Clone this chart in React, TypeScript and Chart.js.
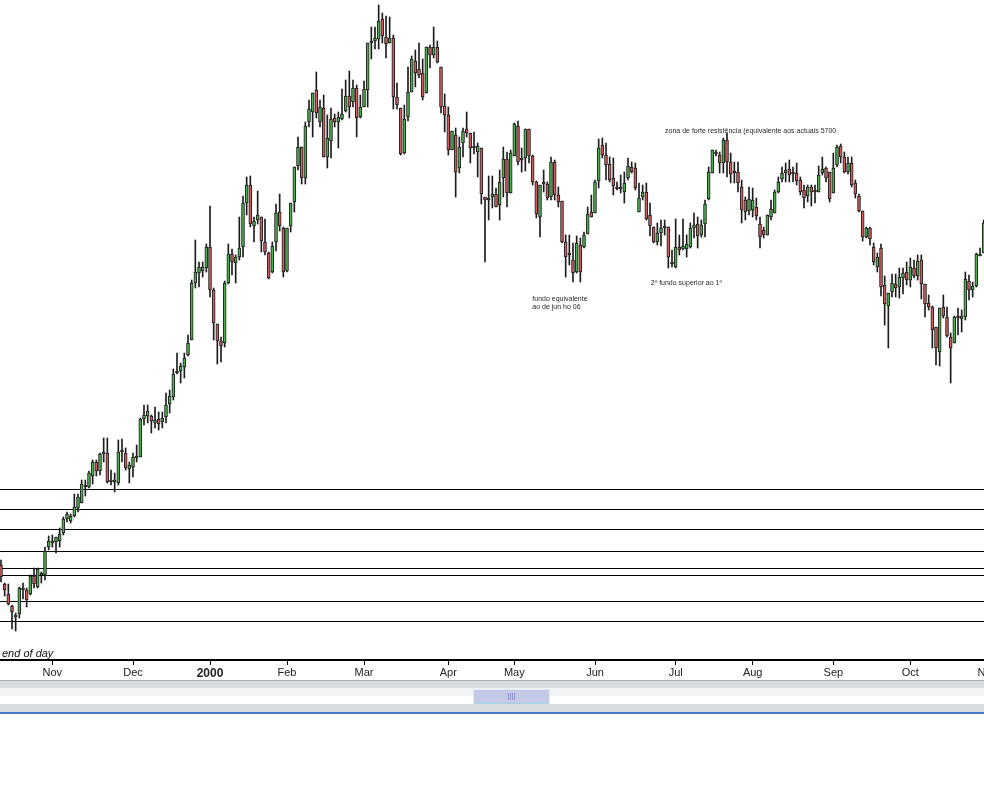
import React, { useEffect, useRef } from 'react';
import { Chart, registerables } from 'chart.js';

Chart.register(...registerables);

// Daily candles, index 0 = mid-October 1999
const openP = [
  9350, 9160, 9060, 8940, 8830, 8860, 9100, 9100, 9060, 9240,
  9130, 9250, 9250, 9530, 9570, 9580, 9590, 9670, 9810, 9790,
  9840, 9920, 9970, 10130, 10130, 10240, 10380, 10290, 10460, 10470,
  10200, 10180, 10170, 10480, 10470, 10310, 10330, 10420, 10430, 10810,
  10840, 10840, 10770, 10810, 10780, 10830, 10960, 11030, 11270, 11290,
  11330, 11450, 11600, 12170, 12270, 12290, 12320, 12530, 12100, 11760,
  11590, 11570, 12170, 12460, 12370, 12430, 12530, 12970, 13150, 12740,
  12800, 12830, 12580, 12470, 12280, 12580, 12880, 12720, 12290, 12740,
  12980, 13340, 13530, 13220, 13780, 13880, 14100, 13780, 13920, 13430,
  13590, 13820, 13780, 13810, 13890, 14040, 13980, 14120, 13830, 13930,
  14100, 14570, 14590, 14610, 14810, 14630, 14570, 14620, 14030, 13920,
  13470, 13830, 14080, 14390, 14310, 14270, 14070, 14530, 14450, 14530,
  14330, 13940, 13850, 13500, 13650, 13320, 13570, 13710, 13670, 13520,
  13480, 13520, 13030, 13000, 13030, 13060, 12950, 13220, 13410, 13070,
  13440, 13740, 13410, 13420, 13710, 13440, 13180, 12830, 13170, 13160,
  13030, 13380, 13050, 12990, 12580, 12460, 12400, 12280, 12550, 12530,
  12660, 12880, 12870, 13190, 13550, 13450, 13360, 13220, 13120, 13130,
  13080, 13220, 13330, 13320, 12880, 13030, 13080, 12850, 12730, 12580,
  12670, 12730, 12730, 12370, 12330, 12530, 12510, 12510, 12530, 12720,
  12760, 12650, 12760, 13010, 13270, 13470, 13450, 13370, 13600, 13380,
  13280, 13280, 13130, 13000, 12890, 12900, 12930, 12760, 12700, 12650,
  12830, 12870, 13080, 13210, 13270, 13310, 13270, 13270, 13200, 13100,
  13040, 13130, 13090, 13080, 13270, 13320, 13280, 13070, 13350, 13540,
  13430, 13280, 13370, 13170, 13040, 12890, 12630, 12720, 12530, 12330,
  12520, 12150, 11940, 12080, 12160, 12130, 12220, 12280, 12200, 12320,
  12240, 12400, 12160, 11970, 11930, 11730, 11480, 11930, 11830, 11630,
  11570, 11830, 11810, 11830, 12190, 12100, 12140, 12440, 12470,
];

const highP = [
  9400, 9170, 9160, 8950, 8870, 9130, 9170, 9120, 9250, 9320,
  9320, 9280, 9530, 9640, 9650, 9630, 9720, 9830, 9880, 9860,
  10060, 10060, 10200, 10200, 10290, 10400, 10400, 10470, 10620, 10620,
  10300, 10270, 10600, 10610, 10520, 10380, 10470, 10550, 10820, 10950,
  10950, 10850, 10930, 10880, 10880, 11070, 11100, 11310, 11470, 11370,
  11470, 11650, 12200, 12600, 12380, 12380, 12560, 12940, 12120, 11760,
  11630, 12190, 12560, 12510, 12450, 12830, 13040, 13230, 13240, 12830,
  13090, 12830, 12810, 12480, 12580, 12960, 13060, 12730, 12720, 12970,
  13330, 13630, 13530, 13780, 14000, 14070, 14280, 14000, 14050, 13850,
  13920, 13860, 13880, 14110, 14200, 14290, 14200, 14150, 14050, 14190,
  14570, 14730, 14730, 14950, 14870, 14840, 14830, 14650, 14170, 13920,
  13950, 14330, 14440, 14500, 14570, 14410, 14530, 14550, 14730, 14590,
  14330, 14060, 13930, 13690, 13720, 13630, 13720, 13880, 13670, 13680,
  13570, 13520, 13030, 13240, 13240, 13120, 13300, 13530, 13480, 13500,
  13770, 13790, 13520, 13710, 13710, 13450, 13190, 13150, 13300, 13180,
  13430, 13400, 13130, 12990, 12650, 12650, 12570, 12640, 12620, 12680,
  12930, 13050, 13200, 13610, 13620, 13570, 13430, 13420, 13180, 13250,
  13280, 13420, 13380, 13370, 13170, 13150, 13170, 12970, 12730, 12770,
  12800, 12800, 12730, 12500, 12810, 12650, 12810, 12650, 12770, 12870,
  12830, 12800, 13000, 13330, 13500, 13500, 13480, 13620, 13670, 13470,
  13380, 13380, 13200, 13030, 13130, 13120, 13020, 12830, 12730, 12850,
  13000, 13100, 13230, 13330, 13370, 13400, 13330, 13370, 13230, 13150,
  13150, 13150, 13150, 13340, 13430, 13330, 13280, 13470, 13550, 13560,
  13480, 13430, 13430, 13200, 13060, 12890, 12730, 12730, 12570, 12470,
  12560, 12240, 12070, 12260, 12260, 12320, 12320, 12380, 12420, 12400,
  12450, 12450, 12160, 12050, 11940, 11730, 11920, 12050, 11930, 11670,
  11840, 11920, 11900, 12280, 12250, 12180, 12470, 12520, 12800,
];

const lowP = [
  9180, 9040, 8950, 8710, 8690, 8820, 9010, 8930, 9050, 9120,
  9120, 9170, 9200, 9500, 9530, 9470, 9530, 9650, 9780, 9770,
  9830, 9880, 9970, 10040, 10120, 10160, 10240, 10250, 10380, 10170,
  10150, 10080, 10150, 10380, 10300, 10170, 10230, 10380, 10430, 10750,
  10770, 10670, 10720, 10700, 10720, 10770, 10870, 11000, 11260, 11170,
  11220, 11440, 11600, 12120, 12130, 12230, 12280, 12030, 11600, 11360,
  11380, 11530, 12160, 12250, 12170, 12400, 12430, 12850, 12730, 12580,
  12760, 12480, 12450, 12210, 12270, 12490, 12690, 12230, 12280, 12680,
  12880, 13300, 13160, 13160, 13730, 13630, 13820, 13730, 13430, 13320,
  13420, 13730, 13520, 13800, 13880, 13820, 13930, 13630, 13820, 13930,
  13930, 14410, 14510, 14510, 14570, 14420, 14570, 13910, 13910, 13450,
  13460, 13790, 14080, 14130, 14220, 14000, 14070, 14320, 14420, 14370,
  13870, 13680, 13450, 13500, 13030, 13270, 13430, 13630, 13370, 13460,
  13230, 12960, 12380, 12800, 12920, 12930, 12800, 13030, 12930, 13070,
  13440, 13350, 13280, 13290, 13370, 13150, 12820, 12630, 13080, 13000,
  13000, 13000, 12930, 12570, 12230, 12350, 12180, 12270, 12180, 12520,
  12660, 12830, 12870, 13120, 13420, 13200, 13180, 13050, 13100, 13070,
  12970, 13200, 13270, 13100, 12880, 13000, 12800, 12640, 12570, 12550,
  12540, 12650, 12320, 12330, 12320, 12450, 12500, 12430, 12520, 12620,
  12520, 12630, 12630, 13000, 13270, 13440, 13270, 13270, 13230, 13170,
  13170, 13080, 12770, 12800, 12850, 12830, 12800, 12520, 12620, 12650,
  12800, 12870, 13070, 13180, 13180, 13180, 13180, 13150, 13050, 12920,
  12980, 12940, 12970, 13080, 13250, 13180, 12980, 13070, 13330, 13370,
  13270, 13260, 13130, 13020, 12880, 12590, 12620, 12550, 12350, 12280,
  12040, 11750, 11520, 12030, 12030, 12020, 12060, 12150, 12130, 12220,
  12200, 12010, 11830, 11900, 11520, 11350, 11340, 11820, 11630, 11170,
  11570, 11650, 11680, 11800, 12000, 12030, 12130, 12440, 12470,
];

const closeP = [
  9230, 9100, 8960, 8880, 8840, 9120, 9110, 9000, 9240, 9160,
  9310, 9260, 9490, 9590, 9590, 9630, 9660, 9810, 9860, 9840,
  9930, 10030, 10160, 10140, 10270, 10380, 10290, 10460, 10470, 10180,
  10180, 10190, 10480, 10490, 10320, 10350, 10430, 10430, 10810, 10850,
  10890, 10790, 10800, 10760, 10820, 10950, 11040, 11260, 11290, 11340,
  11420, 11570, 12170, 12280, 12330, 12330, 12530, 12100, 11770, 11590,
  11540, 12170, 12460, 12380, 12430, 12520, 12970, 13150, 12760, 12790,
  12850, 12590, 12480, 12220, 12540, 12870, 12740, 12280, 12720, 12970,
  13330, 13530, 13220, 13740, 13910, 14070, 13870, 13930, 13430, 13620,
  13810, 13780, 13830, 13860, 14040, 13930, 14120, 13820, 13930, 14110,
  14570, 14590, 14620, 14790, 14640, 14560, 14620, 14030, 13950, 13460,
  13810, 14080, 14410, 14270, 14250, 14030, 14530, 14450, 14530, 14380,
  13930, 13850, 13500, 13690, 13280, 13530, 13690, 13670, 13520, 13530,
  13540, 13060, 13000, 13020, 13060, 12930, 13180, 13410, 13070, 13470,
  13760, 13380, 13400, 13710, 13440, 13180, 12860, 13150, 13160, 13020,
  13380, 13050, 12980, 12580, 12430, 12450, 12270, 12570, 12280, 12650,
  12860, 12830, 13180, 13520, 13450, 13350, 13200, 13140, 13110, 13110,
  13170, 13340, 13280, 13120, 13020, 13080, 12810, 12740, 12580, 12670,
  12720, 12720, 12430, 12360, 12530, 12500, 12540, 12560, 12720, 12750,
  12640, 12750, 12960, 13280, 13500, 13460, 13370, 13600, 13380, 13260,
  13270, 13170, 12900, 12880, 13010, 13000, 12840, 12630, 12650, 12850,
  12910, 13080, 13180, 13270, 13300, 13250, 13260, 13190, 13080, 13020,
  13130, 13080, 13080, 13250, 13310, 13220, 13010, 13320, 13530, 13430,
  13280, 13370, 13150, 13060, 12890, 12630, 12720, 12610, 12380, 12430,
  12130, 11960, 12070, 12170, 12120, 12230, 12270, 12200, 12330, 12240,
  12390, 12160, 11960, 11930, 11700, 11520, 11920, 11840, 11640, 11520,
  11830, 11820, 11840, 12210, 12100, 12140, 12460, 12460, 12770,
];

// Month tick labels and the candle index where each month starts
const monthLabels = ['Nov', 'Dec', '2000', 'Feb', 'Mar', 'Apr', 'May', 'Jun', 'Jul', 'Aug', 'Sep', 'Oct', 'Nov'];
const monthStarts = [14, 36, 57, 78, 99, 122, 140, 162, 184, 205, 227, 248, 269];

// Horizontal support levels
const levels = [10105, 9905, 9705, 9485, 9315, 9245, 8985, 8785];

// Text notes anchored at (candle index, price)
const noteTexts = [
  'zona de forte resistência (equivalente aos actuais 5700',
  'fundo equivalente',
  'ao de jun ho 06',
  '2º fundo superior ao 1º',
];
const noteX = [181.1, 144.9, 144.9, 177.2];
const noteY = [13675, 11995, 11910, 12147];

const X_MIN = -0.2727;
const X_MAX = 268.09;
const Y_MIN = 8400;
const Y_MAX = 15000;

const GREEN = '#4cae4c';
const RED = '#cd5c5c';
const INK = '#1c1c1c';
const FONT = '"Liberation Sans", Arial, Helvetica, sans-serif';

const notesPlugin = {
  id: 'notes',
  afterDatasetsDraw(chart: any) {
    const { ctx, scales, chartArea } = chart;
    const x = scales.x;
    const y = scales.y;
    ctx.save();
    ctx.font = '7px ' + FONT;
    ctx.fillStyle = '#2a2a2a';
    ctx.textAlign = 'left';
    ctx.textBaseline = 'alphabetic';
    noteTexts.forEach((t, i) => {
      ctx.fillText(t, x.getPixelForValue(noteX[i]), y.getPixelForValue(noteY[i]));
    });
    ctx.font = 'italic 11px ' + FONT;
    ctx.fillStyle = '#111';
    ctx.fillText('end of day', chartArea.left + 2, chartArea.bottom - 3);
    ctx.restore();
  },
};

export default function App() {
  const ref = useRef<HTMLCanvasElement | null>(null);

  useEffect(() => {
    document.body.style.margin = '0';
    const canvas = ref.current;
    if (!canvas) return;
    const idx = openP.map((_, i) => i);
    const bodies = idx.map((i) => ({
      x: i,
      y: [Math.min(openP[i], closeP[i]), Math.max(openP[i], closeP[i])],
    }));
    const wicks = idx.map((i) => ({ x: i, y: [lowP[i], highP[i]] }));
    const colors = idx.map((i) => (closeP[i] >= openP[i] ? GREEN : RED));

    const levelSets = levels.map((v) => ({
      type: 'line' as const,
      data: [
        { x: X_MIN, y: v },
        { x: X_MAX, y: v },
      ],
      borderColor: '#000',
      borderWidth: 1,
      pointRadius: 0,
      fill: false,
      order: 3,
    }));

    const chart = new Chart(canvas, {
      type: 'bar',
      data: {
        datasets: [
          {
            type: 'bar',
            data: bodies as any,
            backgroundColor: colors,
            borderColor: INK,
            borderWidth: 1,
            borderSkipped: false,
            barThickness: 3,
            grouped: false,
            minBarLength: 2,
            order: 0,
          } as any,
          {
            type: 'bar',
            data: wicks as any,
            backgroundColor: INK,
            borderWidth: 0,
            barThickness: 1,
            grouped: false,
            order: 1,
          } as any,
          ...(levelSets as any[]),
        ],
      },
      options: {
        responsive: false,
        animation: false,
        events: [],
        layout: { padding: 0 },
        plugins: {
          legend: { display: false },
          tooltip: { enabled: false },
        },
        scales: {
          x: {
            type: 'linear',
            min: X_MIN,
            max: X_MAX,
            offset: false,
            afterBuildTicks: (axis: any) => {
              axis.ticks = monthStarts.map((v) => ({ value: v }));
            },
            afterFit: (axis: any) => {
              axis.height = 20;
              axis.paddingLeft = 0;
              axis.paddingRight = 0;
            },
            ticks: {
              autoSkip: false,
              maxRotation: 0,
              padding: 1,
              color: '#222',
              font: (c: any) =>
                c.tick && c.tick.label === '2000'
                  ? { family: FONT, size: 12, weight: 'bold' }
                  : { family: FONT, size: 11 },
              callback: (value: any) => {
                const k = monthStarts.indexOf(Number(value));
                return k >= 0 ? monthLabels[k] : '';
              },
            },
            grid: {
              offset: false,
              drawOnChartArea: false,
              drawTicks: true,
              tickLength: 5,
              color: '#000',
              lineWidth: 1,
            },
            border: { display: true, color: '#000', width: 2 },
          },
          y: {
            type: 'linear',
            display: false,
            min: Y_MIN,
            max: Y_MAX,
          },
        },
      } as any,
      plugins: [notesPlugin],
    });
    return () => chart.destroy();
  }, []);

  return (
    <div style={{ width: 984, position: 'relative', background: '#fff' }}>
      <canvas ref={ref} width={984} height={680} style={{ display: 'block', width: 984, height: 680 }} />
      <div style={{ height: 1, background: '#a9abae' }} />
      <div style={{ height: 7, background: '#d8dce0' }} />
      <div style={{ height: 8, background: '#f2f3f4' }} />
      <div style={{ height: 8, background: '#ffffff' }} />
      <div style={{ height: 8, background: '#d8dce0' }} />
      <div style={{ height: 2, background: '#4a7ec4' }} />
      <div
        style={{
          position: 'absolute',
          left: 473,
          top: 689,
          width: 75,
          height: 13,
          background: '#c4c9e6',
          border: '1px solid #e4e8f6',
          borderBottomColor: '#9fd6e6',
          borderRadius: 2,
        }}
      >
        <div
          style={{
            position: 'absolute',
            left: 34,
            top: 3,
            width: 7,
            height: 7,
            backgroundImage: 'repeating-linear-gradient(90deg, #8f97c8 0px, #8f97c8 1px, transparent 1px, transparent 2px)',
          }}
        />
      </div>
    </div>
  );
}
